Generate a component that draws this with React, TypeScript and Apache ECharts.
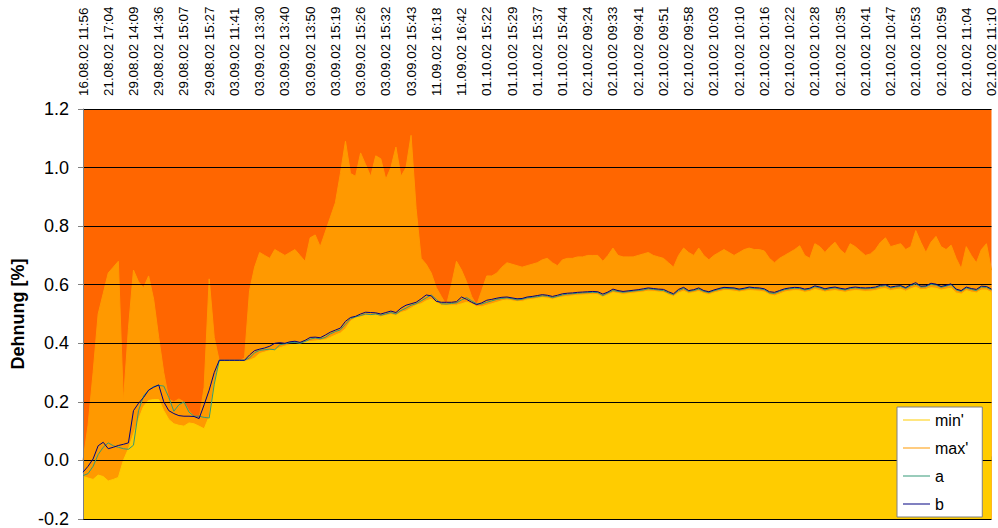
import React, { useEffect, useRef } from "react";
import * as echarts from "echarts";

const tickLabels = [
  "16.08.02 11:56", "21.08.02 17:04", "29.08.02 14:09", "29.08.02 14:36", "29.08.02 15:07",
  "29.08.02 15:27", "03.09.02 11:41", "03.09.02 13:30", "03.09.02 13:40", "03.09.02 13:50",
  "03.09.02 15:19", "03.09.02 15:26", "03.09.02 15:32", "03.09.02 15:43", "11.09.02 16:18",
  "11.09.02 16:42", "01.10.02 15:22", "01.10.02 15:29", "01.10.02 15:37", "01.10.02 15:44",
  "02.10.02 09:24", "02.10.02 09:33", "02.10.02 09:41", "02.10.02 09:51", "02.10.02 09:58",
  "02.10.02 10:03", "02.10.02 10:10", "02.10.02 10:16", "02.10.02 10:22", "02.10.02 10:28",
  "02.10.02 10:35", "02.10.02 10:41", "02.10.02 10:47", "02.10.02 10:53", "02.10.02 10:59",
  "02.10.02 11:04", "02.10.02 11:10",
];
const pointsPerLabel = 5;

const maxPrime = [
  0.00, 0.12, 0.30, 0.50, 0.57, 0.64, 0.66, 0.68, 0.20, 0.45,
  0.65, 0.61, 0.59, 0.63, 0.55, 0.42, 0.30, 0.21, 0.20, 0.21,
  0.20, 0.17, 0.15, 0.14, 0.25, 0.62, 0.42, 0.34, 0.34, 0.34,
  0.34, 0.34, 0.35, 0.58, 0.66, 0.71, 0.70, 0.69, 0.72, 0.71,
  0.70, 0.71, 0.72, 0.70, 0.68, 0.76, 0.77, 0.73, 0.78, 0.83,
  0.88, 0.98, 1.09, 0.98, 0.97, 1.05, 1.01, 0.97, 1.04, 1.03,
  0.96, 1.00, 1.07, 0.97, 1.00, 1.11, 0.86, 0.69, 0.67, 0.64,
  0.59, 0.56, 0.53, 0.60, 0.68, 0.65, 0.61, 0.56, 0.53, 0.58,
  0.63, 0.63, 0.64, 0.66, 0.675, 0.67, 0.665, 0.66, 0.665, 0.67,
  0.675, 0.685, 0.69, 0.675, 0.665, 0.685, 0.69, 0.69, 0.695, 0.695,
  0.70, 0.70, 0.70, 0.68, 0.70, 0.725, 0.70, 0.695, 0.695, 0.695,
  0.70, 0.705, 0.71, 0.70, 0.695, 0.69, 0.675, 0.66, 0.70, 0.725,
  0.71, 0.70, 0.725, 0.70, 0.685, 0.70, 0.71, 0.72, 0.71, 0.70,
  0.71, 0.72, 0.725, 0.72, 0.72, 0.715, 0.69, 0.675, 0.69, 0.70,
  0.71, 0.72, 0.733, 0.70, 0.69, 0.74, 0.73, 0.71, 0.73, 0.745,
  0.72, 0.705, 0.74, 0.73, 0.715, 0.70, 0.705, 0.72, 0.745, 0.76,
  0.73, 0.735, 0.74, 0.72, 0.73, 0.785, 0.745, 0.71, 0.745, 0.765,
  0.73, 0.72, 0.735, 0.69, 0.655, 0.73, 0.70, 0.675, 0.72, 0.74, 0.65,
];

const minPrime = [
  -0.055, -0.06, -0.065, -0.05, -0.055, -0.07, -0.065, -0.058, 0.0, 0.04,
  0.09, 0.14, 0.185, 0.205, 0.208, 0.208, 0.17, 0.14, 0.125, 0.12,
  0.117, 0.128, 0.125, 0.117, 0.108, 0.15, 0.26, 0.338, 0.338, 0.338,
  0.338, 0.338, 0.338, 0.342, 0.35, 0.365, 0.37, 0.375, 0.378, 0.385,
  0.39, 0.395, 0.398, 0.402, 0.405, 0.406, 0.408, 0.41, 0.412, 0.42,
  0.428, 0.435, 0.45, 0.475, 0.487, 0.49, 0.495, 0.495, 0.497, 0.49,
  0.495, 0.498, 0.495, 0.505, 0.51, 0.52, 0.53, 0.535, 0.545, 0.55,
  0.54, 0.53, 0.53, 0.53, 0.53, 0.535, 0.54, 0.535, 0.525, 0.525,
  0.53, 0.535, 0.54, 0.545, 0.548, 0.545, 0.542, 0.543, 0.548, 0.55,
  0.553, 0.556, 0.554, 0.55, 0.555, 0.558, 0.56, 0.562, 0.564, 0.565,
  0.566, 0.567, 0.566, 0.558, 0.565, 0.573, 0.57, 0.567, 0.569, 0.571,
  0.573, 0.575, 0.578, 0.577, 0.575, 0.574, 0.566, 0.56, 0.572, 0.578,
  0.57, 0.573, 0.577, 0.57, 0.566, 0.572, 0.576, 0.58, 0.58, 0.578,
  0.575, 0.578, 0.58, 0.579, 0.578, 0.575, 0.566, 0.562, 0.568, 0.575,
  0.578, 0.58, 0.579, 0.574, 0.577, 0.584, 0.58, 0.575, 0.578, 0.58,
  0.577, 0.574, 0.578, 0.58, 0.579, 0.577, 0.578, 0.58, 0.585, 0.587,
  0.58, 0.583, 0.585, 0.578, 0.586, 0.592, 0.583, 0.584, 0.59, 0.588,
  0.582, 0.585, 0.588, 0.572, 0.568, 0.58, 0.575, 0.572, 0.582, 0.582, 0.573,
];

const seriesA = [
  -0.052, -0.045, -0.02, 0.02, 0.045, 0.06, 0.05, 0.045, 0.04, 0.038,
  0.052, 0.17, 0.22, 0.24, 0.252, 0.256, 0.254, 0.215, 0.168, 0.19,
  0.20, 0.165, 0.151, 0.151, 0.147, 0.145, 0.26, 0.342, 0.342, 0.342,
  0.342, 0.342, 0.342, 0.35, 0.368, 0.376, 0.378, 0.38, 0.378, 0.395,
  0.398, 0.402, 0.403, 0.40, 0.406, 0.414, 0.418, 0.415, 0.42, 0.432,
  0.44, 0.446, 0.465, 0.484, 0.49, 0.495, 0.50, 0.498, 0.50, 0.496,
  0.50, 0.505, 0.50, 0.512, 0.52, 0.53, 0.535, 0.545, 0.555, 0.565,
  0.55, 0.535, 0.534, 0.536, 0.538, 0.548, 0.556, 0.545, 0.535, 0.534,
  0.54, 0.545, 0.55, 0.553, 0.555, 0.552, 0.548, 0.55, 0.555, 0.557,
  0.559, 0.562, 0.561, 0.556, 0.56, 0.565, 0.568, 0.569, 0.571, 0.572,
  0.573, 0.574, 0.573, 0.563, 0.572, 0.58, 0.577, 0.574, 0.576, 0.578,
  0.58, 0.582, 0.586, 0.584, 0.582, 0.58, 0.572, 0.566, 0.58, 0.587,
  0.577, 0.58, 0.585, 0.577, 0.573, 0.579, 0.584, 0.588, 0.587, 0.586,
  0.582, 0.585, 0.589, 0.587, 0.586, 0.583, 0.572, 0.57, 0.577, 0.583,
  0.586, 0.588, 0.587, 0.582, 0.585, 0.593, 0.589, 0.582, 0.587, 0.589,
  0.585, 0.582, 0.587, 0.589, 0.587, 0.586, 0.587, 0.589, 0.594, 0.597,
  0.589, 0.592, 0.594, 0.587, 0.596, 0.603, 0.592, 0.593, 0.601, 0.599,
  0.591, 0.595, 0.60, 0.582, 0.577, 0.589, 0.584, 0.58, 0.592, 0.591, 0.582,
];

const seriesB = [
  -0.04, -0.02, 0.005, 0.05, 0.062, 0.04, 0.045, 0.051, 0.055, 0.06,
  0.17, 0.195, 0.215, 0.24, 0.25, 0.258, 0.20, 0.17, 0.16, 0.153,
  0.151, 0.151, 0.15, 0.143, 0.19, 0.24, 0.30, 0.342, 0.342, 0.342,
  0.342, 0.342, 0.342, 0.36, 0.375, 0.38, 0.384, 0.39, 0.40, 0.402,
  0.40, 0.405, 0.407, 0.403, 0.41, 0.42, 0.421, 0.419, 0.428, 0.438,
  0.445, 0.452, 0.475, 0.488, 0.492, 0.50, 0.506, 0.505, 0.504, 0.50,
  0.505, 0.51, 0.505, 0.52, 0.53, 0.535, 0.54, 0.552, 0.565, 0.562,
  0.543, 0.54, 0.54, 0.54, 0.542, 0.558, 0.55, 0.54, 0.532, 0.538,
  0.547, 0.55, 0.554, 0.557, 0.558, 0.555, 0.552, 0.553, 0.558, 0.56,
  0.563, 0.566, 0.564, 0.56, 0.564, 0.569, 0.571, 0.572, 0.574, 0.575,
  0.576, 0.577, 0.576, 0.568, 0.575, 0.585, 0.58, 0.577, 0.579, 0.581,
  0.583, 0.586, 0.589, 0.587, 0.585, 0.584, 0.576, 0.569, 0.584, 0.591,
  0.58, 0.583, 0.589, 0.58, 0.576, 0.582, 0.587, 0.591, 0.59, 0.589,
  0.585, 0.588, 0.592, 0.59, 0.589, 0.586, 0.576, 0.574, 0.58, 0.586,
  0.589, 0.591, 0.59, 0.585, 0.588, 0.596, 0.592, 0.586, 0.59, 0.592,
  0.588, 0.585, 0.59, 0.592, 0.59, 0.589, 0.59, 0.592, 0.598, 0.60,
  0.592, 0.595, 0.597, 0.59, 0.60, 0.607, 0.595, 0.596, 0.605, 0.602,
  0.594, 0.598, 0.603, 0.585, 0.58, 0.592, 0.587, 0.584, 0.595, 0.594, 0.585,
];

const FONT = "'Liberation Sans', Arial, sans-serif";

export default function App() {
  const ref = useRef<HTMLDivElement>(null);
  useEffect(() => {
    if (!ref.current) return;
    const chart = echarts.init(ref.current, null, { renderer: "svg" });
    const categories = maxPrime.map((_, i) =>
      i % pointsPerLabel === 0 ? tickLabels[i / pointsPerLabel] : `#${i}`
    );
    chart.setOption({
      animation: false,
      backgroundColor: "#ffffff",
      textStyle: { fontFamily: FONT },
      grid: {
        left: 83, right: 6, top: 109, bottom: 8,
        show: true, backgroundColor: "#FF6600", borderWidth: 0,
      },
      legend: {
        orient: "vertical",
        left: 897, top: 407,
        backgroundColor: "#ffffff",
        borderColor: "#808080", borderWidth: 1, borderRadius: 0,
        padding: [3, 14, 3, 6],
        icon: "rect",
        itemWidth: 27, itemHeight: 1, itemGap: 8,
        textStyle: { fontSize: 16, color: "#000", fontFamily: FONT, lineHeight: 20 },
        data: ["min'", "max'", "a", "b"],
      },
      xAxis: {
        type: "category",
        position: "top",
        boundaryGap: false,
        data: categories,
        axisLine: { lineStyle: { color: "#808080", width: 1 } },
        axisTick: { interval: 0, length: 4, lineStyle: { color: "#808080" } },
        axisLabel: {
          interval: pointsPerLabel - 1, rotate: 90, fontSize: 13.4,
          color: "#000", margin: 13, fontFamily: FONT,
        },
        splitLine: { show: false },
      },
      yAxis: {
        type: "value",
        min: -0.2, max: 1.2, interval: 0.2,
        z: 3,
        name: "Dehnung [%]",
        nameLocation: "middle",
        nameGap: 54,
        nameTextStyle: { fontWeight: "bold", fontSize: 18, color: "#000", fontFamily: FONT },
        axisLine: { show: true, lineStyle: { color: "#808080" } },
        axisTick: { show: true, length: 5, lineStyle: { color: "#808080" } },
        axisLabel: {
          formatter: (v: number) => v.toFixed(1),
          fontSize: 18, margin: 14, color: "#000", fontFamily: FONT,
        },
        splitLine: { show: true, lineStyle: { color: "#000", width: 1 } },
      },
      series: [
        {
          name: "max'", type: "line", data: maxPrime, symbol: "none", z: 1,
          color: "#FF9900",
          lineStyle: { width: 1, color: "#FF9900" },
          areaStyle: { color: "#FF9900", opacity: 1, origin: "start" },
        },
        {
          name: "min'", type: "line", data: minPrime, symbol: "none", z: 2,
          color: "#FFCC00",
          lineStyle: { width: 1, color: "#FFCC00" },
          areaStyle: { color: "#FFCC00", opacity: 1, origin: "start" },
        },
        {
          name: "a", type: "line", data: seriesA, symbol: "none", z: 4,
          color: "#339977",
          lineStyle: { width: 1, color: "#339977" },
        },
        {
          name: "b", type: "line", data: seriesB, symbol: "none", z: 5,
          color: "#000080",
          lineStyle: { width: 1, color: "#000080" },
        },
      ],
    });
    return () => chart.dispose();
  }, []);
  return (
    <div
      ref={ref}
      style={{ position: "fixed", left: 0, top: 0, width: 998, height: 528 }}
    />
  );
}
